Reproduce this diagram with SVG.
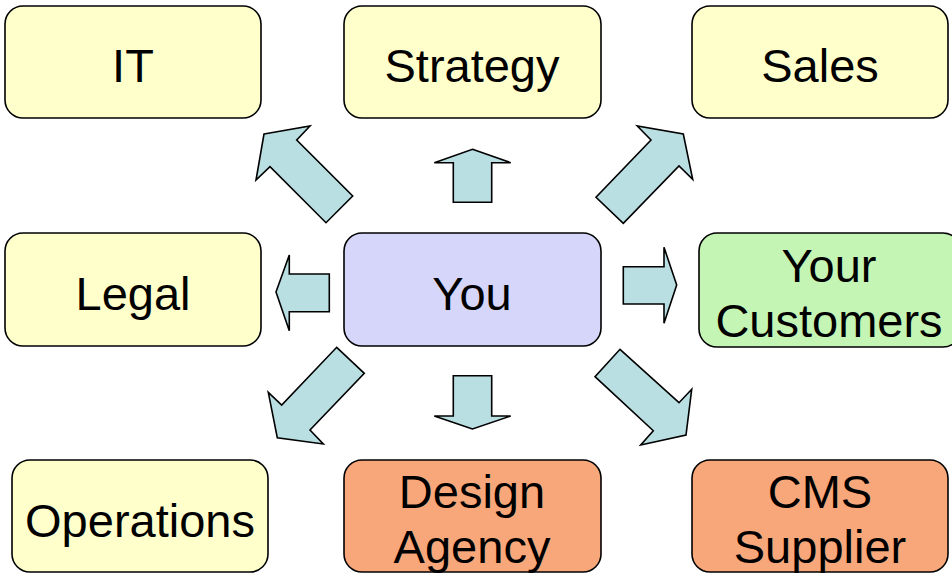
<svg xmlns="http://www.w3.org/2000/svg" width="952" height="577" viewBox="0 0 952 577">
<style>
.box{stroke:#000;stroke-width:1.6}
.y{fill:#FFFFCC}
.p{fill:#D6D6FA}
.g{fill:#C4F5B4}
.o{fill:#F8A77A}
.t{font-family:"Liberation Sans",Arial,sans-serif;font-size:47px;fill:#000;text-anchor:middle}
.ar{fill:#BADFE3;stroke:#000;stroke-width:1.6;stroke-linejoin:miter}
</style>
<rect width="952" height="577" fill="#fff"/>
<g id="it"><rect class="box y" x="5" y="6" width="256" height="112" rx="18"/><text class="t" x="133" y="82">IT</text></g>
<g id="strategy"><rect class="box y" x="344" y="6" width="257" height="112" rx="18"/><text class="t" x="472" y="82">Strategy</text></g>
<g id="sales"><rect class="box y" x="692" y="6" width="256" height="112" rx="18"/><text class="t" x="820" y="82">Sales</text></g>
<g id="legal"><rect class="box y" x="5" y="233" width="256" height="113" rx="18"/><text class="t" x="133" y="310">Legal</text></g>
<g id="you"><rect class="box p" x="344" y="233" width="257" height="113" rx="18"/><text class="t" x="472" y="310">You</text></g>
<g id="customers"><rect class="box g" x="699" y="233" width="262" height="114" rx="18"/><text class="t" x="829" y="282">Your</text><text class="t" x="829" y="337">Customers</text></g>
<g id="operations"><rect class="box y" x="12" y="460" width="256" height="112" rx="18"/><text class="t" x="140" y="537">Operations</text></g>
<g id="design"><rect class="box o" x="344" y="460" width="257" height="112" rx="18"/><text class="t" x="472" y="508">Design</text><text class="t" x="472" y="563">Agency</text></g>
<g id="cms"><rect class="box o" x="692" y="460" width="256" height="112" rx="18"/><text class="t" x="820" y="508">CMS</text><text class="t" x="820" y="563">Supplier</text></g>
<g id="connectors">
<polygon class="ar" points="264,134 310,126 296.7,140 352.7,196 326,222.7 270,166.7 256,180"/>
<polygon class="ar" points="472.5,149.3 510.7,162.7 491.7,162.7 491.7,202.3 453.3,202.3 453.3,162.7 434.3,162.7"/>
<polygon class="ar" points="683.3,134 692.7,179.3 679,166 623.3,223.3 596,197.3 651,140 637.3,126"/>
<polygon class="ar" points="276,292 289.3,255 289.3,274 329.3,274 329.3,311.7 289.3,311.7 289.3,330.7"/>
<polygon class="ar" points="676.7,285 664,323.3 664,304 623.3,304 623.3,266.7 664,266.7 664,247.3"/>
<polygon class="ar" points="336.7,347.3 364.3,373.3 310,430 323.3,444 277.3,437.7 268.3,392.3 281.7,405"/>
<polygon class="ar" points="472.5,429 434.3,416 453.3,416 453.3,375.7 491.7,375.7 491.7,416 510.7,416"/>
<polygon class="ar" points="620,349.3 679,402.7 691.7,389.3 686,435 640.7,445 653.3,430.7 595,376.7"/>
</g>
</svg>
